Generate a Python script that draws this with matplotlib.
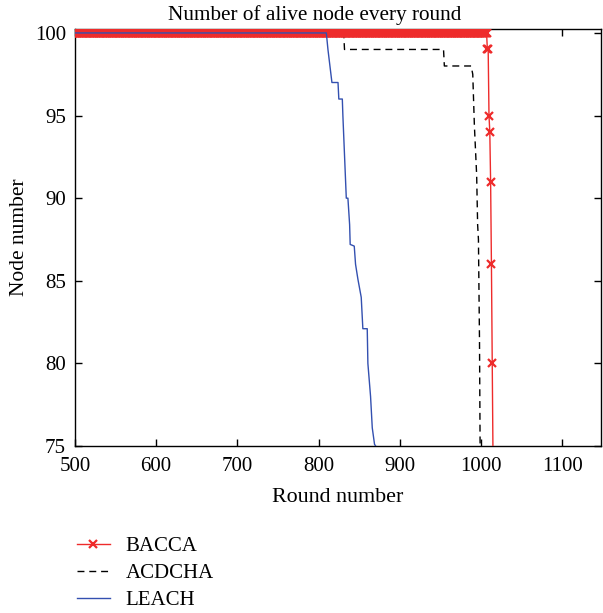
import numpy as np
import matplotlib.pyplot as plt

plt.rcParams['font.family'] = ['Liberation Serif', 'DejaVu Serif']

# BACCA: every round alive until ~1007, then a fast drop
bacca_flat_rounds = np.arange(480, 1008)
bacca_flat_alive = np.full(len(bacca_flat_rounds), 100)
bacca_drop_rounds = [1008, 1009, 1010, 1011, 1012, 1013, 1014, 1015]
bacca_drop_alive = [99, 99, 95, 94, 91, 86, 80, 74]

# ACDCHA (change points)
acdcha_rounds = [480, 831, 832, 954, 955, 988, 990, 992, 994.8, 996, 997, 998.3, 999, 1000]
acdcha_alive = [100, 100, 99, 99, 98, 98, 97.5, 94.4, 91.4, 88.4, 87.5, 81.4, 75.4, 72]

# LEACH (change points)
leach_rounds = [480, 809.6, 811.6, 816.5, 824, 825, 829.3, 830, 834.2, 836.2, 838.3, 839,
                844, 845.6, 848.5, 852.6, 854.6, 860, 860.8, 864.1, 866.2, 869, 876]
leach_alive = [100, 100, 99, 97, 97, 96, 96, 95, 90, 90, 88.4, 87.2,
               87.1, 86, 85.1, 84, 82.1, 82.1, 80, 78, 76.1, 75.1, 74.6]

fig = plt.figure(figsize=(6.03, 6.13), dpi=100)
ax = fig.add_axes([0.1244, 0.2724, 0.8723, 0.6798])

red = '#ee2b2b'
blue = '#3350b0'

ax.plot(np.concatenate([bacca_flat_rounds, bacca_drop_rounds]),
        np.concatenate([bacca_flat_alive, bacca_drop_alive]),
        color=red, lw=1.0, marker='x', ms=6, mew=1.6, label='BACCA', zorder=3)
ax.plot(acdcha_rounds, acdcha_alive, color='black', lw=1.0, ls=(0, (5, 3.5)),
        label='ACDCHA', zorder=2)
ax.plot(leach_rounds, leach_alive, color=blue, lw=1.0, label='LEACH', zorder=4)

ax.set_xlim(500, 1148)
ax.set_ylim(75, 100.22)
ax.set_xticks([500, 600, 700, 800, 900, 1000, 1100])
ax.set_yticks([75, 80, 85, 90, 95, 100])
ax.tick_params(direction='in', top=True, right=True, labelsize=15, length=5, width=1, pad=6.5)
ax.tick_params(axis='x', pad=8)
for s in ax.spines.values():
    s.set_linewidth(1.0)

ax.set_title('Number of alive node every round', fontsize=15.3, pad=7, x=0.456)
ax.set_xlabel('Round number', fontsize=15.8, labelpad=8.5)
ax.set_ylabel('Node number', fontsize=15.5, labelpad=4)

fig.legend(loc='upper left', bbox_to_anchor=(0.127, 0.1245), frameon=False,
           fontsize=15, handlelength=1.6, handletextpad=0.75, labelspacing=0.35,
           borderpad=0, borderaxespad=0)

fig.savefig('out.png', dpi=100)
